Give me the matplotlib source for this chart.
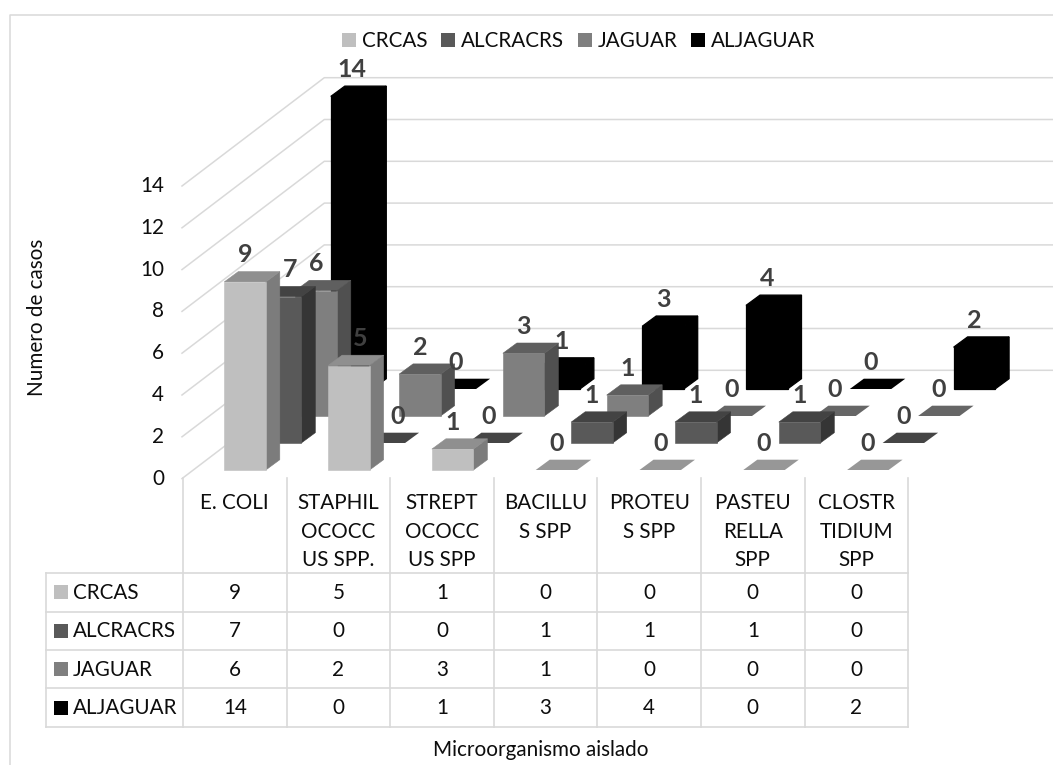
import matplotlib
matplotlib.use("Agg")
import matplotlib.pyplot as plt
from matplotlib.patches import Polygon, Patch

plt.rcParams['font.family'] = ['Lato', 'DejaVu Sans']

# ---------- data ----------
categories = ["E. COLI", "STAPHILOCOCCUS SPP.", "STREPTOCOCCUS SPP", "BACILLUS SPP",
              "PROTEUS SPP", "PASTEURELLA SPP", "CLOSTRTIDIUM SPP"]
category_lines = [["E. COLI"], ["STAPHIL", "OCOCC", "US SPP."], ["STREPT", "OCOCC", "US SPP"],
                  ["BACILLU", "S SPP"], ["PROTEU", "S SPP"], ["PASTEU", "RELLA", "SPP"],
                  ["CLOSTR", "TIDIUM", "SPP"]]
series_names = ["CRCAS", "ALCRACRS", "JAGUAR", "ALJAGUAR"]
crcas = [9, 5, 1, 0, 0, 0, 0]
alcracrs = [7, 0, 0, 1, 1, 1, 0]
jaguar = [6, 2, 3, 1, 0, 0, 0]
aljaguar = [14, 0, 1, 3, 4, 0, 2]
series_values = [crcas, alcracrs, jaguar, aljaguar]
y_ticks = [0, 2, 4, 6, 8, 10, 12, 14]

# ---------- style and projection ----------
front_col = ['#BFBFBF', '#595959', '#7F7F7F', '#000000']
top_col = ['#8F8F8F', '#434343', '#5F5F5F', '#000000']
side_col = ['#7C7C7C', '#353535', '#505050', '#000000']
flat_col = ['#979797', '#454545', '#666666', '#000000']
GRID = '#D9D9D9'
TXT = '#0D0D0D'
LBL = '#404040'
FS = 14.9

UNIT = 20.9          # px per unit of value
CAT_DX = 103.8       # px per category
ROW_DX, ROW_DY = 35.5, 27.0   # px per series row
BAR_X0, BAR_Y0 = 224.3, 470.0
BAR_W = 41.5
DEP_DX, DEP_DY = 14.0, 10.3
FLOOR_X, FLOOR_Y = 182.0, 478.6
BACK_X, BACK_Y = 324.3, 370.3
RIGHT = 1053

fig = plt.figure(figsize=(10.53, 7.65), dpi=100, facecolor='white')
ax = fig.add_axes([0, 0, 1, 1])
ax.set_xlim(0, 1053)
ax.set_ylim(765, 0)
ax.axis('off')

# chart frame
ax.plot([10, 10, RIGHT], [765, 15, 15], color=GRID, lw=1.1, zorder=1)

# gridlines and value axis
for t in y_ticks:
    h = t * UNIT
    ax.plot([FLOOR_X, BACK_X, RIGHT], [FLOOR_Y - h, BACK_Y - h, BACK_Y - h], color=GRID, lw=1.1, zorder=1)
    ax.text(164, FLOOR_Y - h, str(t), ha='right', va='center', fontsize=FS, color=TXT)


def bar_polys(i, s, v):
    x0 = BAR_X0 + i * CAT_DX + s * ROW_DX
    x1 = x0 + BAR_W
    yb = BAR_Y0 - s * ROW_DY
    yt = yb - v * UNIT
    front = [(x0, yb), (x1, yb), (x1, yt), (x0, yt)]
    top = [(x0, yt), (x1, yt), (x1 + DEP_DX, yt - DEP_DY), (x0 + DEP_DX, yt - DEP_DY)]
    side = [(x1, yb), (x1 + DEP_DX, yb - DEP_DY), (x1 + DEP_DX, yt - DEP_DY), (x1, yt)]
    return front, top, side, (x0 + BAR_W / 2, yt)


label_nudge = {(0, 1): 9.5, (1, 0): 11, (1, 1): 13, (2, 3): 3}

labels = []
for s in range(3, -1, -1):
    z = 10 + (3 - s) * 2
    lw = 0.9 if s == 3 else 0.4
    for i in range(len(categories) - 1, -1, -1):
        v = series_values[s][i]
        front, top, side, anchor = bar_polys(i, s, v)
        if v == 0:
            ax.add_patch(Polygon(top, closed=True, fc=flat_col[s], ec='none', zorder=z))
        else:
            ax.add_patch(Polygon(side, closed=True, fc=side_col[s], ec=side_col[s], lw=lw, zorder=z))
            ax.add_patch(Polygon(top, closed=True, fc=top_col[s], ec=top_col[s], lw=lw, zorder=z))
            ax.add_patch(Polygon(front, closed=True, fc=front_col[s], ec=front_col[s], lw=lw, zorder=z))
        labels.append((anchor[0] + label_nudge.get((i, s), 0), anchor[1] - 27, str(v)))

for x, y, t in labels:
    ax.text(x, y, t, ha='center', va='center', fontsize=18, fontweight='bold', color=LBL, zorder=40)

# data table
col_x = [183 + k * 103.6 for k in range(len(categories) + 1)]
row_y = [573, 611.7, 650, 688.3, 726.7]
TAB_L = 45.7
for x in col_x:
    ax.plot([x, x], [478, row_y[-1]], color=GRID, lw=1.2, zorder=2)
for y in row_y:
    ax.plot([TAB_L, col_x[-1]], [y, y], color=GRID, lw=1.2, zorder=2)
ax.plot([TAB_L, TAB_L], [row_y[0], row_y[-1]], color=GRID, lw=1.2, zorder=2)

for i, lines in enumerate(category_lines):
    cx = (col_x[i] + col_x[i + 1]) / 2
    for k, line in enumerate(lines):
        ax.text(cx, 503 + k * 28.7, line, ha='center', va='center', fontsize=FS, color=TXT)

for s, name in enumerate(series_names):
    cy = (row_y[s] + row_y[s + 1]) / 2
    ax.add_patch(Polygon([(54, cy - 7), (68, cy - 7), (68, cy + 7), (54, cy + 7)], closed=True,
                         fc=front_col[s], ec='none', zorder=3))
    ax.text(73, cy + 0.5, name, ha='left', va='center', fontsize=FS, color=TXT)
    for i, v in enumerate(series_values[s]):
        ax.text((col_x[i] + col_x[i + 1]) / 2, cy + 0.5, str(v), ha='center', va='center', fontsize=FS, color=TXT)

# legend
handles = [Patch(fc=c, ec='none', label=n) for c, n in zip(front_col, series_names)]
ax.legend(handles=handles, loc='center', bbox_to_anchor=(579, 41), bbox_transform=ax.transData,
          ncol=4, frameon=False, fontsize=FS, handlelength=0.68, handleheight=0.68,
          handletextpad=0.28, columnspacing=0.66, borderpad=0, labelcolor=TXT)

# axis titles
ax.text(37, 317, "Numero de casos", rotation=90, ha='center', va='center', fontsize=FS, color=TXT)
ax.text(541, 750, "Microorganismo aislado", ha='center', va='center', fontsize=FS, color=TXT)

fig.savefig('out.png', dpi=100, facecolor='white')
